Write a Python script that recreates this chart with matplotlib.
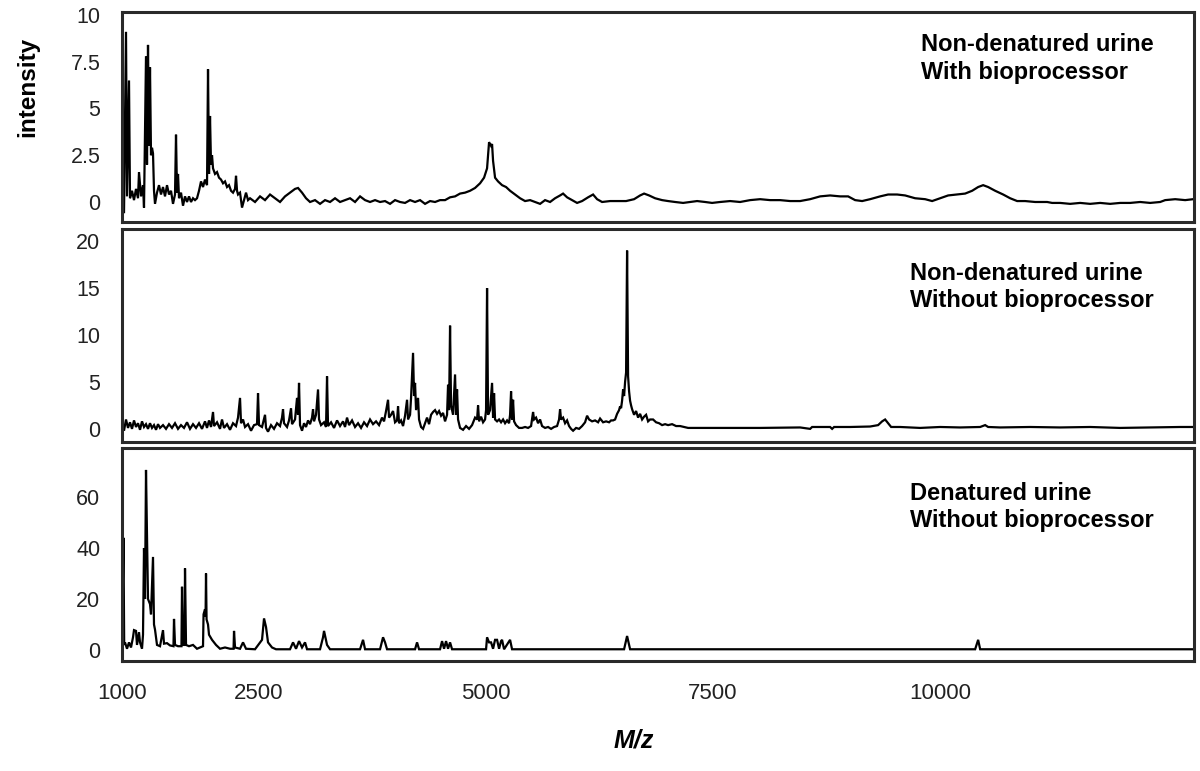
import matplotlib
matplotlib.use("Agg")
import matplotlib.pyplot as plt

plt.rcParams['font.family'] = ['Liberation Sans', 'DejaVu Sans']

# ---------------- data ----------------
mz_top = [1000, 1022, 1044, 1055, 1077, 1088, 1110, 1132, 1154, 1176, 1187, 1209, 1231, 1242,
          1264, 1275, 1286, 1297, 1308, 1319, 1330, 1341, 1352, 1363, 1385, 1407, 1429, 1451,
          1473, 1495, 1517, 1539, 1561, 1583, 1594, 1605, 1616, 1627, 1649, 1671, 1693, 1715,
          1737, 1759, 1781, 1803, 1825, 1847, 1869, 1891, 1913, 1935, 1946, 1957, 1968, 1979,
          1990, 2001, 2023, 2045, 2067, 2089, 2111, 2133, 2155, 2177, 2199, 2221, 2243, 2254,
          2265, 2276, 2298, 2320, 2342, 2364, 2386, 2408, 2463, 2518, 2573, 2628, 2683, 2738,
          2793, 2848, 2903, 2936, 2980, 3024, 3068, 3123, 3178, 3233, 3288, 3343, 3398, 3453,
          3508, 3563, 3618, 3673, 3728, 3783, 3838, 3893, 3948, 4003, 4058, 4113, 4168, 4223,
          4278, 4333, 4388, 4443, 4498, 4553, 4608, 4663, 4718, 4773, 4828, 4883, 4938, 4982,
          5015, 5037, 5059, 5070, 5081, 5103, 5136, 5180, 5224, 5268, 5323, 5378, 5433, 5488,
          5543, 5598, 5653, 5708, 5763, 5818, 5851, 5895, 5950, 6005, 6060, 6126, 6181, 6225,
          6280, 6368, 6456, 6544, 6632, 6698, 6742, 6797, 6863, 6940, 7006, 7083, 7171, 7248,
          7325, 7413, 7490, 7578, 7688, 7798, 7908, 8018, 8128, 8238, 8348, 8458, 8568, 8678,
          8788, 8898, 8986, 9063, 9140, 9228, 9338, 9426, 9525, 9613, 9723, 9833, 9910, 9998,
          10086, 10185, 10273, 10350, 10416, 10471, 10526, 10603, 10691, 10768, 10845, 10933,
          11043, 11175, 11230, 11318, 11428, 11538, 11648, 11758, 11868, 11978, 12088, 12198,
          12308, 12418, 12473, 12583, 12693, 12781]
int_top = [0.6, -0.6, 9.1, 0.3, 6.5, 0.2, 0.6, 0.1, 0.7, 0.2, 1.6, 0.3, 0.9, -0.3,
           7.8, 2.0, 8.4, 3.0, 7.2, 2.5, 2.9, 2.6, 0.6, -0.1, 0.5, 0.9, 0.4, 0.8,
           0.3, 0.9, 0.4, 0.6, -0.1, 0.4, 3.6, 0.5, 1.5, 0.2, 0.5, -0.2, 0.3, 0.0,
           0.3, 0.0, 0.2, 0.1, 0.2, 0.6, 1.1, 0.8, 1.2, 0.9, 7.1, 1.5, 4.6, 2.0,
           2.5, 1.8, 1.5, 1.6, 1.3, 1.2, 1.0, 1.1, 0.8, 0.9, 0.6, 0.5, 0.7, 1.4,
           0.6, 0.4, 0.5, -0.3, 0.1, 0.5, 0.1, 0.2, 0.0, 0.3, 0.1, 0.4, 0.2, 0.0,
           0.3, 0.5, 0.7, 0.75, 0.5, 0.2, 0.0, 0.1, -0.1, 0.1, 0.0, 0.2, 0.0, 0.1,
           0.2, 0.0, 0.3, 0.1, 0.0, 0.1, 0.0, 0.05, -0.1, 0.1, 0.0, -0.05, 0.1, 0.0,
           0.1, -0.1, 0.05, 0.0, 0.1, 0.1, 0.25, 0.3, 0.45, 0.5, 0.6, 0.75, 1.0, 1.3,
           1.8, 3.2, 3.0, 3.1, 2.2, 1.3, 1.1, 0.9, 0.8, 0.6, 0.4, 0.2, 0.05, 0.1,
           0.0, -0.1, 0.1, 0.0, 0.2, 0.35, 0.45, 0.25, 0.1, -0.05, 0.05, 0.25, 0.4, 0.15,
           0.0, 0.05, 0.05, 0.05, 0.15, 0.35, 0.45, 0.35, 0.2, 0.1, 0.05, 0.0, -0.05, 0.0,
           0.05, 0.0, -0.05, 0.0, 0.05, 0.0, 0.1, 0.15, 0.1, 0.1, 0.05, 0.05, 0.15, 0.3,
           0.35, 0.3, 0.3, 0.1, 0.05, 0.15, 0.3, 0.4, 0.4, 0.35, 0.2, 0.15, 0.05, 0.2,
           0.35, 0.4, 0.45, 0.6, 0.8, 0.9, 0.8, 0.6, 0.4, 0.2, 0.05, 0.05,
           0.0, 0.0, -0.05, -0.05, -0.1, -0.05, -0.1, -0.05, -0.1, -0.05, -0.05, 0.0,
           -0.05, 0.0, 0.1, 0.15, 0.1, 0.15]

mz_mid = [1000, 1022, 1044, 1066, 1088, 1110, 1132, 1154, 1176, 1198, 1220, 1242, 1264, 1286,
          1308, 1330, 1352, 1374, 1396, 1418, 1451, 1484, 1517, 1550, 1583, 1616, 1649, 1682,
          1715, 1748, 1781, 1814, 1847, 1880, 1913, 1935, 1957, 1979, 2001, 2012, 2045, 2078,
          2100, 2122, 2155, 2188, 2221, 2254, 2276, 2298, 2309, 2331, 2353, 2386, 2419, 2452,
          2485, 2496, 2507, 2540, 2573, 2584, 2606, 2639, 2672, 2705, 2738, 2760, 2771, 2782,
          2815, 2837, 2859, 2870, 2903, 2925, 2936, 2947, 2958, 2980, 3002, 3024, 3046, 3068,
          3090, 3101, 3112, 3134, 3156, 3167, 3189, 3222, 3244, 3255, 3266, 3299, 3332, 3365,
          3398, 3431, 3453, 3475, 3497, 3530, 3563, 3596, 3629, 3662, 3695, 3728, 3761, 3794,
          3827, 3860, 3882, 3904, 3926, 3937, 3959, 3981, 4003, 4025, 4036, 4047, 4069, 4091,
          4113, 4135, 4146, 4168, 4179, 4201, 4212, 4223, 4234, 4256, 4267, 4289, 4311, 4333,
          4355, 4377, 4399, 4421, 4443, 4465, 4487, 4509, 4531, 4553, 4575, 4586, 4597, 4608,
          4619, 4641, 4663, 4674, 4685, 4696, 4718, 4751, 4784, 4817, 4850, 4883, 4905, 4916,
          4927, 4949, 4971, 4993, 5004, 5015, 5026, 5048, 5070, 5081, 5092, 5103, 5125, 5147,
          5169, 5191, 5213, 5235, 5257, 5268, 5279, 5290, 5301, 5312, 5334, 5367, 5400, 5433,
          5466, 5499, 5521, 5532, 5554, 5576, 5598, 5620, 5653, 5686, 5719, 5752, 5785, 5807,
          5818, 5829, 5851, 5873, 5895, 5917, 5939, 5961, 5994, 6027, 6060, 6093, 6115, 6137,
          6170, 6203, 6236, 6258, 6291, 6324, 6357, 6379, 6401, 6423, 6445, 6467, 6478, 6489,
          6500, 6511, 6522, 6533, 6544, 6555, 6566, 6577, 6588, 6599, 6610, 6632, 6654, 6676,
          6698, 6720, 6742, 6764, 6786, 6808, 6841, 6874, 6907, 6940, 6973, 7006, 7050, 7094,
          7138, 7182, 7226, 7578, 8018, 8458, 8568, 8590, 8788, 8810, 8832, 9008, 9228, 9316,
          9360, 9393, 9426, 9459, 9558, 9778, 9998, 10218, 10438, 10493, 10526, 10658, 10988,
          11318, 11648, 11978, 12308, 12638, 12781]
int_mid = [0.8, -0.2, 1.0, 0.1, 0.7, 0.0, 0.9, 0.2, 0.6, -0.1, 0.8, 0.2, 0.5, 0.0,
           0.6, 0.1, 0.4, -0.1, 0.5, 0.1, 0.4, 0.0, 0.5, 0.1, 0.6, 0.0, 0.4, 0.1,
           0.7, 0.0, 0.5, 0.1, 0.6, 0.0, 0.8, 0.1, 0.9, 0.2, 1.8, 0.3, 0.7, 0.0,
           1.0, 0.1, 0.5, -0.1, 0.6, 0.3, 1.2, 3.3, 0.6, 1.0, 0.2, 0.5, -0.2, 0.4,
           0.5, 3.8, 0.4, 0.2, 1.5, 0.1, -0.3, 0.4, 0.0, 0.6, 0.3, 1.2, 2.1, 0.6,
           0.2, 0.9, 2.2, 0.5, 1.0, 3.3, 1.5, 4.9, 0.4, -0.2, 0.6, 0.2, 0.9, 0.5,
           1.2, 2.1, 0.8, 1.5, 4.2, 1.0, 0.4, 0.7, 0.2, 5.6, 0.3, 0.7, 0.1, 0.9,
           0.3, 0.8, 0.2, 1.2, 0.4, 0.9, 0.2, 0.6, 0.1, 0.7, 0.3, 1.0, 0.5, 0.8,
           0.4, 1.2, 0.8, 1.9, 3.1, 1.2, 1.5, 1.9, 0.7, 0.9, 2.4, 0.6, 0.9, 0.3,
           1.4, 3.1, 1.0, 1.5, 3.3, 8.1, 3.5, 4.9, 2.0, 3.3, 1.0, 0.2, 0.0, 0.6,
           1.2, 0.5, 1.5, 1.8, 2.0, 1.6, 1.9, 1.4, 1.7, 0.8, 1.5, 4.7, 2.0, 11.0,
           2.5, 1.5, 5.8, 1.5, 4.2, 1.0, 0.1, -0.1, 0.3, 0.0, 0.4, 1.2, 1.0, 2.5,
           0.8, 1.3, 0.7, 1.0, 2.0, 15.0, 1.5, 2.0, 4.9, 1.2, 3.8, 1.0, 0.8, 1.0,
           0.7, 1.0, 0.6, 0.9, 0.6, 1.5, 4.0, 1.0, 3.1, 0.8, 0.4, 0.1, 0.1, 0.2,
           0.1, 0.3, 1.8, 1.0, 1.2, 0.6, 1.0, 0.3, 0.1, 0.2, 0.0, 0.2, 0.3, 1.0,
           2.1, 1.0, 1.2, 0.6, 0.9, 0.3, 0.0, -0.2, 0.1, 0.0, 0.3, 0.7, 1.4, 1.0,
           0.8, 0.9, 0.7, 1.1, 0.7, 0.8, 0.7, 0.9, 0.9, 1.0, 1.6, 2.0, 2.4, 2.2,
           3.0, 4.2, 3.5, 5.0, 6.0, 19.0, 5.6, 4.0, 3.0, 2.5, 2.1, 1.5, 1.9, 1.2,
           1.6, 1.0, 1.3, 1.5, 0.8, 1.0, 1.0, 0.7, 0.6, 0.4, 0.5, 0.4, 0.5, 0.3,
           0.3, 0.2, 0.1, 0.1, 0.1, 0.15, 0.0, 0.2, 0.2, 0.0, 0.2, 0.2, 0.25, 0.4,
           0.8, 1.0, 0.6, 0.2, 0.2, 0.1, 0.2, 0.15, 0.2, 0.4, 0.2, 0.15, 0.2,
           0.15, 0.2, 0.1, 0.15, 0.2, 0.2]

mz_bot = [1000, 1016, 1024, 1033, 1055, 1077, 1099, 1121, 1132, 1154, 1165, 1187, 1198, 1220,
          1231, 1242, 1253, 1264, 1275, 1286, 1308, 1319, 1341, 1352, 1363, 1385, 1418, 1451,
          1462, 1495, 1528, 1566, 1572, 1583, 1616, 1654, 1660, 1671, 1688, 1693, 1704, 1737,
          1781, 1825, 1858, 1891, 1897, 1913, 1919, 1924, 1930, 1946, 1957, 1990, 2034, 2078,
          2133, 2188, 2227, 2232, 2243, 2298, 2331, 2364, 2463, 2540, 2562, 2584, 2606, 2650,
          2694, 2848, 2881, 2914, 2947, 2980, 3013, 3035, 3178, 3211, 3222, 3255, 3288, 3618,
          3651, 3673, 3838, 3871, 3893, 3915, 4223, 4245, 4267, 4498, 4520, 4542, 4564, 4586,
          4608, 4630, 5004, 5015, 5037, 5059, 5081, 5103, 5125, 5147, 5169, 5180, 5202, 5268,
          5290, 6522, 6555, 6588, 10383, 10416, 10438, 12781]
int_bot = [0.5, 44.0, 2.0, 3.0, 0.5, 3.0, 1.0, 5.0, 7.8, 7.5, 2.0, 7.0, 3.0, 0.5,
           6.0, 40.0, 20.0, 70.6, 45.0, 20.0, 18.0, 14.0, 36.5, 10.0, 8.0, 2.0, 1.5, 7.8,
           2.5, 2.7, 1.8, 1.5, 12.2, 2.0, 1.5, 1.5, 24.8, 2.0, 2.0, 32.0, 2.0, 1.5,
           2.0, 0.5, 1.0, 1.5, 14.0, 16.0, 13.0, 30.0, 12.0, 10.0, 6.0, 4.0, 2.0, 0.5,
           1.0, 0.5, 0.5, 7.5, 1.0, 0.5, 3.0, 0.5, 0.3, 4.0, 12.4, 9.0, 3.0, 1.0,
           0.3, 0.3, 3.0, 0.5, 3.5, 1.0, 3.0, 0.3, 0.3, 5.0, 7.5, 2.0, 0.3, 0.3,
           4.0, 0.3, 0.3, 5.0, 3.0, 0.3, 0.3, 3.0, 0.3, 0.3, 3.5, 0.5, 3.5, 0.5,
           3.0, 0.3, 0.3, 5.0, 3.0, 3.0, 0.5, 4.0, 4.0, 0.5, 3.5, 4.0, 0.3, 4.0,
           0.3, 0.3, 5.5, 0.3, 0.3, 4.0, 0.3, 0.3]

yticks_top = [0, 2.5, 5, 7.5, 10]
yticklabels_top = ["0", "2.5", "5", "7.5", "10"]
yticks_mid = [0, 5, 10, 15, 20]
yticks_bot = [0, 20, 40, 60]
xticks = [1000, 2500, 5000, 7500, 10000]

labels = ["Non-denatured urine\nWith bioprocessor",
          "Non-denatured urine\nWithout bioprocessor",
          "Denatured urine\nWithout bioprocessor"]

# ---------------- figure ----------------
W, H = 1200, 771
fig = plt.figure(figsize=(W / 100, H / 100), dpi=100)

def axes_px(left, top, right, bottom):
    return fig.add_axes([left / W, 1 - bottom / H, (right - left) / W, (bottom - top) / H])

ax1 = axes_px(122, 12, 1194, 222)
ax2 = axes_px(122, 229, 1194, 442)
ax3 = axes_px(122, 448, 1194, 661)

series = [(ax1, mz_top, int_top, (-1.07, 10.16), yticks_top, yticklabels_top, 0.90, 0.745),
          (ax2, mz_mid, int_mid, (-1.4, 21.3), yticks_mid, [str(v) for v in yticks_mid], 0.846, 0.735),
          (ax3, mz_bot, int_bot, (-4.3, 79.2), yticks_bot, [str(v) for v in yticks_bot], 0.841, 0.735)]

for i, (ax, x, y, ylim, yt, ytl, ty, tx) in enumerate(series):
    ax.plot(x, y, color='black', lw=1.6, solid_joinstyle='miter')
    ax.set_xlim(1000, 12790)
    ax.set_ylim(*ylim)
    ax.set_yticks(yt)
    ax.set_yticklabels(ytl)
    ax.tick_params(axis='y', length=0, pad=15.5, labelsize=15.5, labelcolor='#222222')
    ax.set_xticks(xticks)
    if ax is ax3:
        ax.set_xticklabels([str(v) for v in xticks], fontsize=16, color='#222222')
        ax.tick_params(axis='x', length=0, pad=16)
    else:
        ax.tick_params(axis='x', length=0, labelbottom=False)
    for s in ax.spines.values():
        s.set_linewidth(2.2)
        s.set_color('#2a2a2a')
    ax.text(tx, ty, labels[i], transform=ax.transAxes, ha='left', va='top',
            fontsize=17, fontweight='bold', linespacing=1.25, color='black')

fig.text(28 / W, 1 - 87 / H, "intensity", rotation=90, ha='center', va='center',
         fontsize=17.5, fontweight='bold')
fig.text(634 / W, 1 - 741 / H, "M/z", ha='center', va='center',
         fontsize=18, fontweight='bold', fontstyle='italic')

fig.savefig("out.png", dpi=100)
